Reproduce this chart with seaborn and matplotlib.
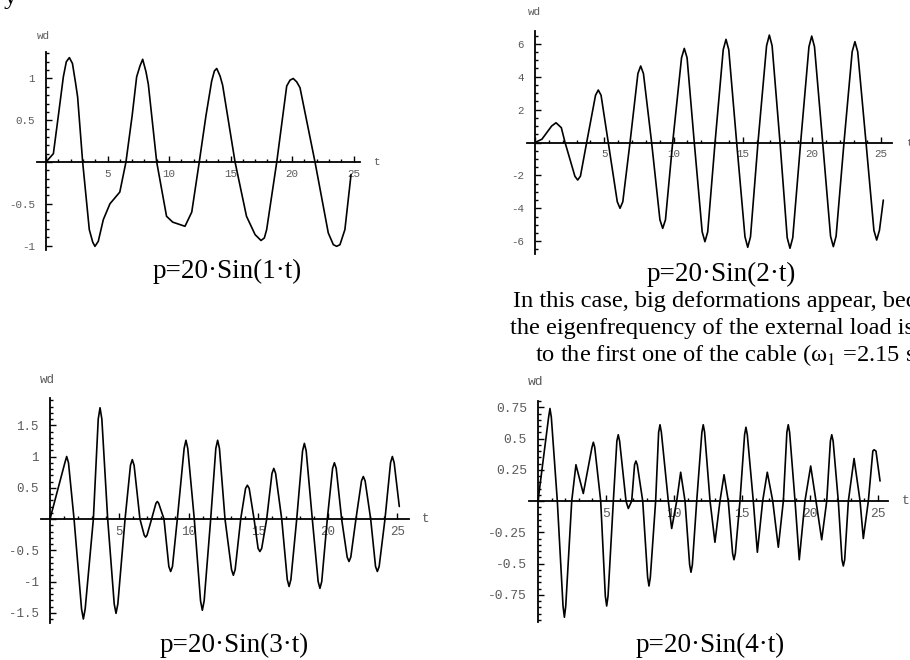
import matplotlib
matplotlib.use("Agg")
import matplotlib.pyplot as plt
import seaborn as sns
import pandas as pd
from matplotlib.ticker import MultipleLocator, FuncFormatter

sns.set_style("white")
plt.rcParams["font.family"] = ["Liberation Serif", "DejaVu Serif"]
plt.rcParams["mathtext.fontset"] = "stix"

W, H = 910, 660

# ---------------- data ----------------
t1 = [0, 0.6, 1.0, 1.41, 1.65, 1.9, 2.15, 2.4, 2.57, 2.98, 3.52, 3.8, 3.98, 4.25, 4.66,
      5.2, 6.0, 6.5, 7.0, 7.37, 7.64, 7.86, 8.13, 8.32, 9.0, 9.8, 10.3, 10.9, 11.3,
      11.85, 12.46, 13.0, 13.47, 13.69, 13.88, 14.15, 14.36, 15.37, 16.3, 17.0, 17.48,
      17.75, 17.94, 18.76, 19.57, 19.84, 20.1, 20.38, 20.65, 21.87, 22.95, 23.36,
      23.63, 23.9, 24.3, 24.8]
w1 = [0, 0.10, 0.55, 1.02, 1.2, 1.25, 1.18, 0.95, 0.78, 0, -0.81, -0.96, -1.01, -0.95,
      -0.69, -0.50, -0.36, 0, 0.55, 1.02, 1.15, 1.23, 1.08, 0.93, 0, -0.65, -0.72,
      -0.75, -0.77, -0.60, 0, 0.55, 0.97, 1.09, 1.12, 1.03, 0.92, 0, -0.65, -0.87,
      -0.94, -0.91, -0.81, 0, 0.91, 0.98, 1.0, 0.96, 0.89, 0, -0.85, -0.99, -1.01,
      -0.99, -0.81, -0.15]

t2 = [0, 0.5, 1.2, 1.52, 1.9, 2.17, 2.88, 3.08, 3.28, 3.73, 4.37, 4.57, 4.77, 5.29,
      5.94, 6.14, 6.34, 6.86, 7.43, 7.63, 7.83, 8.42, 9.02, 9.22, 9.42, 9.94, 10.58,
      10.78, 10.98, 11.5, 12.07, 12.27, 12.47, 13.0, 13.59, 13.79, 13.99, 14.56, 15.16,
      15.36, 15.56, 16.1, 16.72, 16.92, 17.12, 17.69, 18.21, 18.41, 18.61, 19.18,
      19.78, 19.98, 20.18, 20.77, 21.34, 21.54, 21.74, 22.31, 22.9, 23.1, 23.3, 23.9,
      24.47, 24.67, 24.87, 25.15]
w2 = [0, 0.2, 1.0, 1.2, 0.9, 0, -2.05, -2.28, -2.05, 0, 2.87, 3.19, 2.87, 0, -3.6,
      -4.0, -3.6, 0, 4.19, 4.65, 4.19, 0, -4.7, -5.22, -4.7, 0, 5.15, 5.72, 5.15, 0,
      -5.43, -6.03, -5.43, 0, 5.64, 6.27, 5.64, 0, -5.73, -6.37, -5.73, 0, 5.88, 6.53,
      5.88, 0, -5.79, -6.43, -5.79, 0, 5.82, 6.47, 5.82, 0, -5.7, -6.33, -5.7, 0, 5.52,
      6.13, 5.52, 0, -5.34, -5.93, -5.34, -3.5]

t3 = [0, 1.07, 1.2, 1.33, 1.73, 2.27, 2.4, 2.53, 3.12, 3.47, 3.6, 3.73, 4.15, 4.62,
      4.75, 4.88, 5.4, 5.79, 5.92, 6.05, 6.47, 6.78, 6.88, 6.98, 7.31, 7.62, 7.72,
      7.82, 8.2, 8.55, 8.68, 8.81, 9.16, 9.65, 9.78, 9.91, 10.38, 10.83, 10.96, 11.09,
      11.56, 11.93, 12.06, 12.19, 12.59, 13.06, 13.19, 13.32, 13.72, 14.07, 14.2,
      14.33, 14.68, 14.97, 15.1, 15.23, 15.59, 15.97, 16.1, 16.23, 16.67, 17.07, 17.2,
      17.33, 17.75, 18.17, 18.3, 18.43, 18.87, 19.29, 19.42, 19.55, 19.95, 20.33,
      20.46, 20.59, 20.98, 21.38, 21.51, 21.64, 22.01, 22.41, 22.54, 22.67, 23.07,
      23.42, 23.55, 23.68, 24.1, 24.5, 24.63, 24.76, 25.13]
w3 = [0, 0.9, 1.0, 0.9, 0, -1.44, -1.6, -1.44, 0, 1.6, 1.78, 1.6, 0, -1.36, -1.51,
      -1.36, 0, 0.86, 0.95, 0.86, 0, -0.26, -0.29, -0.26, 0, 0.25, 0.28, 0.25, 0,
      -0.76, -0.84, -0.76, 0, 1.13, 1.26, 1.13, 0, -1.31, -1.46, -1.31, 0, 1.13, 1.26,
      1.13, 0, -0.81, -0.9, -0.81, 0, 0.49, 0.54, 0.49, 0, -0.47, -0.52, -0.47, 0,
      0.73, 0.81, 0.73, 0, -0.97, -1.08, -0.97, 0, 1.09, 1.21, 1.09, 0, -1.0, -1.11,
      -1.0, 0, 0.81, 0.9, 0.81, 0, -0.61, -0.68, -0.61, 0, 0.61, 0.68, 0.61, 0, -0.76,
      -0.84, -0.76, 0, 0.9, 1.0, 0.9, 0.2]

t4 = [0, 0.78, 0.88, 0.98, 1.42, 1.84, 1.94, 2.04, 2.48, 2.79, 3.33, 3.97, 4.07, 4.17,
      4.61, 4.95, 5.05, 5.15, 5.54, 5.8, 5.9, 6.0, 6.47, 6.64, 6.89, 7.1, 7.2, 7.3,
      7.7, 8.06, 8.16, 8.26, 8.65, 8.87, 8.97, 9.07, 9.58, 9.83, 10.2, 10.49, 10.81,
      11.15, 11.25, 11.35, 11.67, 12.05, 12.15, 12.25, 12.65, 13.01, 13.38, 13.68,
      13.99, 14.31, 14.41, 14.51, 14.85, 15.19, 15.29, 15.39, 15.83, 16.13, 16.52,
      16.86, 17.26, 17.67, 18.04, 18.3, 18.4, 18.5, 18.9, 19.21, 19.63, 20.05, 20.44,
      20.86, 21.23, 21.5, 21.6, 21.7, 22.08, 22.35, 22.45, 22.55, 22.82, 23.24, 23.68,
      23.92, 24.29, 24.62, 24.71, 24.85, 25.15]
w4 = [0, 0.67, 0.74, 0.67, 0, -0.84, -0.93, -0.84, 0, 0.29, 0.06, 0.43, 0.47, 0.43, 0,
      -0.76, -0.84, -0.76, 0, 0.48, 0.53, 0.48, 0, -0.06, 0, 0.29, 0.32, 0.29, 0,
      -0.61, -0.68, -0.61, 0, 0.55, 0.61, 0.55, 0, -0.22, 0, 0.23, 0, -0.51, -0.57,
      -0.51, 0, 0.55, 0.61, 0.55, 0, -0.33, 0, 0.21, 0, -0.42, -0.47, -0.42, 0, 0.53,
      0.59, 0.53, 0, -0.41, 0, 0.23, 0, -0.37, 0, 0.55, 0.61, 0.55, 0, -0.47, 0, 0.28,
      0, -0.31, 0, 0.48, 0.53, 0.48, 0, -0.47, -0.52, -0.47, 0, 0.34, 0, -0.30, 0,
      0.4, 0.41, 0.4, 0.16]

captions = ["p=20·Sin(1·t)", "p=20·Sin(2·t)", "p=20·Sin(3·t)", "p=20·Sin(4·t)"]
note_lines = ["In this case, big deformations appear, because",
              "the eigenfrequency of the external load is close",
              "to the first one of the cable (ω$_1$ =2.15 sec$^{-1}$)"]

# ---------------- layout ----------------
panels = [
    dict(t=t1, w=w1, o=(46, 162), sx=12.3, sy=83.5, xb=(-0.7, 25.5), yb=(-1.05, 1.32),
         ymaj=0.5, ymin=0.1, tl=(373, 162), wd=(43, 36), cap=(227, 278), fs=7.8),
    dict(t=t2, w=w2, o=(535, 142.5), sx=13.85, sy=16.45, xb=(-0.6, 25.8), yb=(-6.8, 6.8),
         ymaj=2, ymin=0.5, tl=(906, 142.5), wd=(534, 12), cap=(721, 281), fs=7.8),
    dict(t=t3, w=w3, o=(50, 519), sx=13.9, sy=62.5, xb=(-0.67, 25.8), yb=(-1.66, 1.94),
         ymaj=0.5, ymin=0.1, tl=(422, 519), wd=(47, 380), cap=(234, 652), fs=9),
    dict(t=t4, w=w4, o=(538, 501), sx=13.6, sy=125, xb=(-0.66, 25.7), yb=(-0.97, 0.8),
         ymaj=0.25, ymin=0.05, tl=(902, 501), wd=(536, 382), cap=(710, 652), fs=9.4),
]

fig = plt.figure(figsize=(W / 100, H / 100), dpi=100)
mono = "Liberation Mono"
gray = "#5a5a5a"


def fmt(v, pos):
    if abs(v) < 1e-9:
        return ""
    return "%g" % v


for i, p in enumerate(panels):
    ox, oy = p["o"]
    xl = p["xb"]
    yl = p["yb"]
    fs = p["fs"]
    left = ox + xl[0] * p["sx"]
    right = ox + xl[1] * p["sx"]
    top = oy - yl[1] * p["sy"]
    bottom = oy - yl[0] * p["sy"]
    ax = fig.add_axes([left / W, 1 - bottom / H, (right - left) / W, (bottom - top) / H])
    ax.set_facecolor("none")
    df = pd.DataFrame({"t": p["t"], "wd": p["w"]})
    sns.lineplot(data=df, x="t", y="wd", ax=ax, color="black", lw=1.2,
                 sort=False, estimator=None)
    for ln in ax.lines:
        ln.set_clip_on(False)
    ax.set_xlim(*xl)
    ax.set_ylim(*yl)
    ax.set_xlabel("")
    ax.set_ylabel("")
    for s in ("top", "right"):
        ax.spines[s].set_visible(False)
    ax.spines["left"].set_position(("data", 0))
    ax.spines["bottom"].set_position(("data", 0))
    for s in ("left", "bottom"):
        ax.spines[s].set_color("black")
        ax.spines[s].set_linewidth(1.3)
    ax.xaxis.set_major_locator(MultipleLocator(5))
    ax.xaxis.set_minor_locator(MultipleLocator(1))
    ax.yaxis.set_major_locator(MultipleLocator(p["ymaj"]))
    ax.yaxis.set_minor_locator(MultipleLocator(p["ymin"]))
    ax.xaxis.set_major_formatter(FuncFormatter(fmt))
    ax.yaxis.set_major_formatter(FuncFormatter(fmt))
    ax.tick_params(axis="both", which="major", direction="in", length=4, width=1,
                   color="black", labelsize=fs, labelcolor=gray)
    ax.tick_params(axis="both", which="minor", direction="in", length=2, width=1,
                   color="black")
    ax.tick_params(axis="x", which="major", pad=5, bottom=True)
    ax.tick_params(axis="x", which="minor", bottom=True)
    ax.tick_params(axis="y", which="major", pad=8, left=True)
    ax.tick_params(axis="y", which="minor", left=True)
    for lab in ax.get_xticklabels() + ax.get_yticklabels():
        lab.set_fontfamily(mono)
    fig.text(p["tl"][0] / W, 1 - p["tl"][1] / H, "t", family=mono, size=fs,
             color=gray, ha="left", va="center")
    fig.text(p["wd"][0] / W, 1 - p["wd"][1] / H, "wd", family=mono, size=fs,
             color=gray, ha="center", va="center")
    fig.text(p["cap"][0] / W, 1 - p["cap"][1] / H, captions[i], size=19.5,
             ha="center", va="baseline", color="black")

note_pos = [(513, 307), (510, 334), (535, 362)]
for (x, y), line in zip(note_pos, note_lines):
    fig.text(x / W, 1 - y / H, line, size=17.6, ha="left", va="baseline", color="black")

fig.text(4 / W, 1 - 4 / H, "y", size=19, ha="left", va="baseline", color="black")

fig.savefig("out.png", dpi=100)
